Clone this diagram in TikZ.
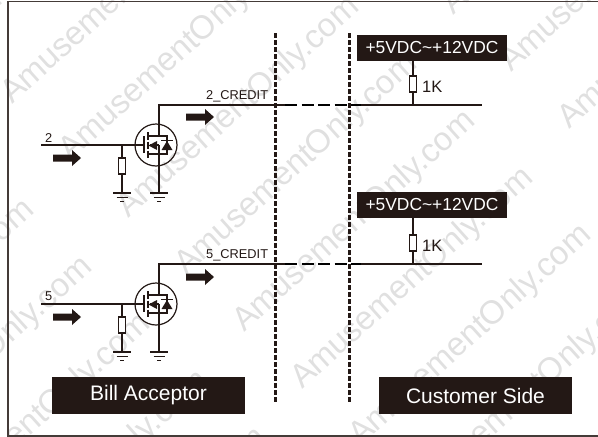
\documentclass[tikz,border=0pt]{standalone}
\usepackage{fontspec}
\usetikzlibrary{calc}
\setmainfont{Liberation Sans}
\definecolor{ink}{HTML}{231815}
\definecolor{wm}{HTML}{E0E0E0}
\newcommand{\wmark}[2]{\node[wmtext] at (#1,#2) {AmusementOnly.com};}
\newcommand{\gndsym}[1]{%
  \draw[wire] ($(#1)+(-9,0)$) -- ($(#1)+(9,0)$);
  \draw[wire,line width=.9pt] ($(#1)+(-5.5,4)$) -- ($(#1)+(5.5,4)$);
  \draw[wire,line width=.9pt] ($(#1)+(-2,8)$) -- ($(#1)+(2,8)$);}
\newcommand{\bigarrow}[2]{\fill[ink] (#1,#2-3.5) -- (#1+19,#2-3.5) -- (#1+19,#2-8) -- (#1+28,#2) -- (#1+19,#2+8) -- (#1+19,#2+3.5) -- (#1,#2+3.5) -- cycle;}
\newcommand{\stage}[4]{%
\begin{scope}[shift={(0,#1)},name prefix=#2-]
  \coordinate (in) at (41,145);
  \coordinate (jg) at (122,145);
  \coordinate (dk) at (159,105);
  \coordinate (out) at (285,105);
  \coordinate (g1) at (122,193);
  \coordinate (g2) at (159,193);
  \node[fetc] (fet) at (156,145) {};
  \node[rbox] (r) at (122,166) {};
  \draw[wire] (in) -- (fet.west);
  \draw[wire] (fet.west) -- (144,145);
  \draw[wire] (jg) -- (r.north);
  \draw[wire] (r.south) -- (g1);
  \gndsym{g1}
  \gndsym{g2}
  \draw[wire] (out) -- (dk) -- (159,136) -- (148,136);
  \draw[wire] (159,136) -- (167,136) -- (167,154) -- (148,154);
  \draw[wire] (159,154) -- (g2);
  \draw[wire] (159,145) -- (159,154);
  \draw[wire] (150,145) -- (159,145);
  \draw[wire,line width=1.4pt] (144,136) -- (144,153);
  \draw[wire,line width=1.4pt] (148,132) -- (148,140);
  \draw[wire,line width=1.4pt] (148,141.5) -- (148,149);
  \draw[wire,line width=1.4pt] (148,150.5) -- (148,158);
  \fill[ink] (148.5,145.5) -- (157,141) -- (157,150) -- cycle;
  \fill[ink] (167,141) -- (172.5,150) -- (161.5,150) -- cycle;
  \draw[wire] (161,140.5) -- (173,140.5);
  \node[lab,anchor=base west] at (45,#3) {#4};
\end{scope}}
\begin{document}
\begin{tikzpicture}[x=1pt,y=-1pt,
  wire/.style={draw=ink,line width=1.2pt},
  wmtext/.style={text=wm,anchor=base west,rotate=42,inner sep=0pt,font=\fontsize{33}{36}\selectfont},
  lab/.style={text=ink,inner sep=0pt,font=\fontsize{12.8}{14}\selectfont},
  rbox/.style={draw=ink,fill=white,line width=1.2pt,rectangle,minimum width=7.5pt,minimum height=16pt,inner sep=0pt},
  fetc/.style={draw=ink,line width=1.2pt,circle,minimum size=42pt,inner sep=0pt},
  banner/.style={fill=ink,text=white,rectangle,inner sep=0pt},
  divider/.style={draw=ink,line width=2.6pt,dash pattern=on 4.5pt off 2.5pt},
  link/.style={draw=black,line width=2.5pt,dash pattern=on 12pt off 4.5pt}]
\useasboundingbox (0,0) rectangle (598,437);
\begin{scope}
\clip (0,0) rectangle (598,437);
\foreach \k in {-1,...,7}{\wmark{12+58*\k}{105+57*\k}}
\foreach \k in {3,4,5}{\wmark{279+58*\k}{-155+57*\k}}
\foreach \k in {1,...,5}{\wmark{-255+58*\k}{365+57*\k}}
\end{scope}
% frame
\draw[draw=ink!85,line width=1.4pt] (598,1.5) -- (8,1.5) -- (8,436) -- (598,436);
% dividers
\coordinate (d1t) at (275.5,33); \coordinate (d1b) at (275.5,403);
\coordinate (d2t) at (349.7,33); \coordinate (d2b) at (349.7,403);
\draw[divider] (d1t) -- (d1b);
\draw[divider] (d2t) -- (d2b);
% stages
\stage{0}{a}{142}{2}
\stage{159}{b}{141}{5}
\node[lab,anchor=base west] at (206,99) {2\_CREDIT};
\node[lab,anchor=base west] at (206,258) {5\_CREDIT};
\bigarrow{53}{158}
\bigarrow{186}{117}
\bigarrow{53}{317}
\bigarrow{186}{277}
% supply side
\node[banner,minimum width=150pt,minimum height=26pt,font=\fontsize{17.4}{20}\selectfont] (v1) at (432,48) {+5VDC\textasciitilde+12VDC};
\node[banner,minimum width=150pt,minimum height=26pt,font=\fontsize{17.4}{20}\selectfont] (v2) at (432,205) {+5VDC\textasciitilde+12VDC};
\node[rbox] (r1) at (413,84) {};
\node[rbox] (r2) at (413,243) {};
\coordinate (t1) at (413,105); \coordinate (t2) at (413,264);
\coordinate (e1) at (482,105); \coordinate (e2) at (482,264);
\coordinate (k1) at (361,105); \coordinate (k2) at (361,264);
\draw[wire] (v1.south -| r1) -- (r1.north);
\draw[wire] (r1.south) -- (t1);
\draw[wire] (v2.south -| r2) -- (r2.north);
\draw[wire] (r2.south) -- (t2);
\draw[wire] (k1) -- (e1);
\draw[wire] (k2) -- (e2);
\draw[link] (a-out) -- (k1);
\draw[link] (b-out) -- (k2);
\node[text=ink,inner sep=0pt,anchor=base west,font=\fontsize{16.5}{18}\selectfont] at (422,92) {1K};
\node[text=ink,inner sep=0pt,anchor=base west,font=\fontsize{16.5}{18}\selectfont] at (422,251) {1K};
% titles
\node[banner,minimum width=193pt,minimum height=37pt,font=\fontsize{21}{24}\selectfont] (ba) at (148.5,395.5) {Bill Acceptor};
\node[banner,minimum width=193pt,minimum height=37pt,font=\fontsize{21}{24}\selectfont] (cs) at (475.5,395.5) {Customer Side};
\end{tikzpicture}
\end{document}
